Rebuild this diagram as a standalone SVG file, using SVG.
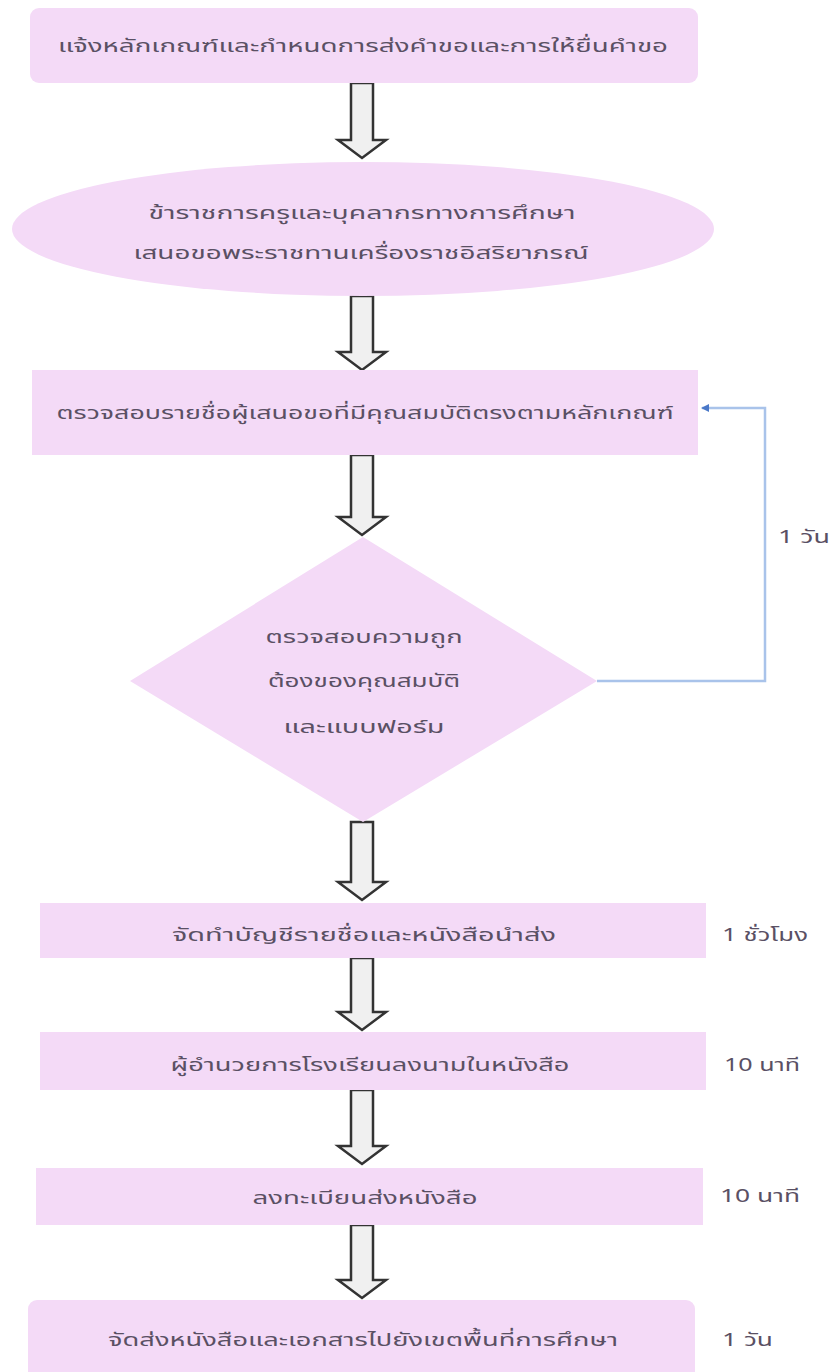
<svg xmlns="http://www.w3.org/2000/svg" width="833" height="1372" viewBox="0 0 833 1372">
<style>
.n{fill:#F4DAF7;stroke:none}
.t{font-family:"Noto Sans Thai","Noto Sans","DejaVu Sans",sans-serif;font-size:18px;fill:#5a5064;text-anchor:middle;dominant-baseline:central}
.l{font-family:"Noto Sans Thai","Noto Sans","DejaVu Sans",sans-serif;font-size:18px;fill:#5a5064;dominant-baseline:central}
.a{fill:#f0f0f0;stroke:#333;stroke-width:2.5;stroke-linejoin:miter}
.c{fill:none;stroke:#A9C3EA;stroke-width:2.5}
</style>
<defs>
<marker id="ah" markerWidth="8" markerHeight="8" refX="7" refY="4" orient="auto" markerUnits="userSpaceOnUse">
<path d="M0,0 L8,4 L0,8 z" fill="#4A78C8"/>
</marker>
</defs>
<rect width="833" height="1372" fill="#ffffff"/>
<g id="connectors">
<polygon class="a" points="351,83 373,83 373,140 386,140 362,158 338,140 351,140"/>
<polygon class="a" points="351,296 373,296 373,352 386,352 362,370 338,352 351,352"/>
<polygon class="a" points="351,455 373,455 373,517 386,517 362,535 338,517 351,517"/>
<polygon class="a" points="351,822 373,822 373,882 386,882 362,900 338,882 351,882"/>
<polygon class="a" points="351,958 373,958 373,1012 386,1012 362,1030 338,1012 351,1012"/>
<polygon class="a" points="351,1090 373,1090 373,1146 386,1146 362,1164 338,1146 351,1146"/>
<polygon class="a" points="351,1225 373,1225 373,1280 386,1280 362,1298 338,1280 351,1280"/>
<polyline class="c" points="597,681 765,681 765,408 702,408" marker-end="url(#ah)"/>
<text class="l" x="778" y="537" textLength="52" lengthAdjust="spacingAndGlyphs">1 วัน</text>
</g>
<g id="n1">
<rect class="n" x="30" y="8" width="668" height="75" rx="9"/>
<text class="t" x="363" y="46" textLength="610" lengthAdjust="spacingAndGlyphs">แจ้งหลักเกณฑ์และกำหนดการส่งคำขอและการให้ยื่นคำขอ</text>
</g>
<g id="n2">
<ellipse class="n" cx="363" cy="229" rx="351" ry="67"/>
<text class="t" x="362" y="213" textLength="427" lengthAdjust="spacingAndGlyphs">ข้าราชการครูและบุคลากรทางการศึกษา</text>
<text class="t" x="361" y="253" textLength="455" lengthAdjust="spacingAndGlyphs">เสนอขอพระราชทานเครื่องราชอิสริยาภรณ์</text>
</g>
<g id="n3">
<rect class="n" x="32" y="370" width="666" height="85"/>
<text class="t" x="365" y="413" textLength="617" lengthAdjust="spacingAndGlyphs">ตรวจสอบรายชื่อผู้เสนอขอที่มีคุณสมบัติตรงตามหลักเกณฑ์</text>
</g>
<g id="n4">
<polygon class="n" points="363,537 597,681 363,822 130,681"/>
<text class="t" x="364" y="637" textLength="197" lengthAdjust="spacingAndGlyphs">ตรวจสอบความถูก</text>
<text class="t" x="364" y="681" textLength="192" lengthAdjust="spacingAndGlyphs">ต้องของคุณสมบัติ</text>
<text class="t" x="364" y="727" textLength="161" lengthAdjust="spacingAndGlyphs">และแบบฟอร์ม</text>
</g>
<g id="n5">
<rect class="n" x="40" y="903" width="666" height="55"/>
<text class="t" x="364" y="935" textLength="384" lengthAdjust="spacingAndGlyphs">จัดทำบัญชีรายชื่อและหนังสือนำส่ง</text>
<text class="l" x="722" y="935" textLength="86" lengthAdjust="spacingAndGlyphs">1 ชั่วโมง</text>
</g>
<g id="n6">
<rect class="n" x="40" y="1032" width="666" height="58"/>
<text class="t" x="370" y="1065" textLength="399" lengthAdjust="spacingAndGlyphs">ผู้อำนวยการโรงเรียนลงนามในหนังสือ</text>
<text class="l" x="724" y="1065" textLength="76" lengthAdjust="spacingAndGlyphs">10 นาที</text>
</g>
<g id="n7">
<rect class="n" x="36" y="1168" width="667" height="57"/>
<text class="t" x="365" y="1198" textLength="225" lengthAdjust="spacingAndGlyphs">ลงทะเบียนส่งหนังสือ</text>
<text class="l" x="720" y="1196" textLength="80" lengthAdjust="spacingAndGlyphs">10 นาที</text>
</g>
<g id="n8">
<rect class="n" x="28" y="1300" width="667" height="80" rx="9"/>
<text class="t" x="363" y="1340" textLength="510" lengthAdjust="spacingAndGlyphs">จัดส่งหนังสือและเอกสารไปยังเขตพื้นที่การศึกษา</text>
<text class="l" x="722" y="1340" textLength="51" lengthAdjust="spacingAndGlyphs">1 วัน</text>
</g>
</svg>
